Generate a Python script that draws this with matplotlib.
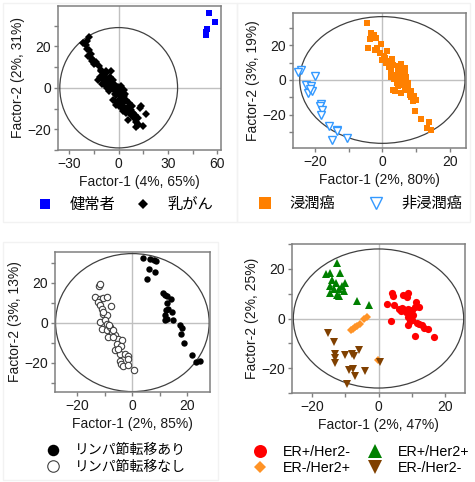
import numpy as np
import matplotlib
matplotlib.use('Agg')
import matplotlib.pyplot as plt
from matplotlib.patches import Ellipse, Rectangle

plt.rcParams['font.family'] = ['Liberation Sans', 'Noto Sans CJK JP']
plt.rcParams['font.size'] = 10

# ---- data ----
# panel A: healthy vs breast cancer
healthy_x = [54.8, 58.4, 53.5, 53.0, 52.8]
healthy_y = [36.2, 31.5, 28.3, 26.8, 25.4]
cancer_x = [-21.5, -18.0, -20.0, -19.5, -17.8, -18.8, -17.0, -15.8, -14.6, -13.6, -16.2, -15.0,
            -10.5, -7.5, -4.5, -12.5, -11.5, -9.5, -8.8, -7.5, -5.5, -6.5, -3.4, -10.0, -8.5,
            -6.5, -5.0, -2.4, -0.4, 1.6, -4.5, -3.0, -1.8, 0.6, 3.0, -1.4, 0.5, 1.6, -3.4, -0.4,
            1.0, 2.6, 4.7, 3.5, 5.7, 3.7, 7.7, 8.7, 5.7, 10.8, 12.8, 13.8, 16.8, 14.8, 10.8, 11.8,
            7.7, 1.6, -1.4, 6.5, 9.5, 4.5, 2.5, 0.0, -2.5, -6.0, -7.0, -9.0, -11.0, -8.0, -2.0,
            4.0, 6.0, 8.0, 10.0, 11.5, 12.0, -3.8, -12.0, -17.0, -19.5]
cancer_y = [21.5, 24.5, 20.5, 18.8, 18.0, 15.2, 14.5, 13.2, 12.0, 12.6, 12.8, 11.3,
            8.0, 6.9, 8.2, 3.8, 5.0, 3.7, 5.5, 4.5, 5.3, 3.0, 3.7, 2.0, 1.3,
            2.0, 0.5, 1.3, 0.5, 0.8, -0.3, -1.0, -1.1, -1.9, -1.1, -3.5, -3.0, -4.3, -5.9, -6.7,
            -5.5, -7.5, -5.9, -4.0, -9.1, -9.9, -10.7, -12.3, -15.5, -16.3, -9.9, -8.8, -12.8, -18.4, -18.7, -17.4,
            -13.1, -9.1, -8.3, -11.5, -14.5, -12.0, -11.0, -9.0, -6.5, -1.5, 0.0, 6.5, 8.5, 8.0, -3.0,
            -3.0, -7.5, -9.0, -13.0, -14.8, -18.0, 2.0, 10.5, 16.5, 22.5]

# panel B: invasive vs non-invasive
inv_x = [-4.7, -3.3, -3.8, -1.8, -2.6, -4.3, -2.3, -0.5, -0.8, 1.5, 0.7, -0.2, 1.7, 3.1, 4.6,
         5.6, 6.6, 2.7, 3.6, 5.1, 4.2, 3.1, 6.1, 7.6, 6.6, 5.6, 8.1, 10.1, 9.1, 9.6, 11.4, 13.7,
         13.1, 14.5, 3.6, 4.5, 2.0, 1.0, 3.0, 5.5, 7.0, 6.0, 4.5, 8.5, 7.5, 5.0, 2.5, 0.5, -1.5,
         3.5, 8.5, 9.5, 6.8]
inv_y = [33.0, 27.2, 23.6, 24.3, 25.8, 18.6, 17.6, 20.9, 15.6, 16.6, 12.7, 11.5, 10.8, 8.9, 7.9,
         6.0, 4.1, 5.0, 3.1, 1.2, -1.7, -5.6, -2.7, -1.7, -5.6, -7.5, -8.5, -11.4, -12.4, -18.2, -22.4, -24.4,
         -27.8, -28.8, -6.6, 5.5, 7.5, 10.0, 12.0, 9.0, 2.0, 0.0, -3.5, -10.0, -4.0, 3.5, 1.5, 14.0, 18.5,
         0.5, -6.5, -9.5, 7.0]
noninv_x = [-24.2, -25.0, -19.9, -22.6, -21.1, -22.1, -20.8, -21.5, -18.3, -18.6, -18.0, -18.3,
            -15.8, -13.4, -13.6, -14.8, -10.5]
noninv_y = [6.0, 4.4, 2.1, -2.7, -3.3, -7.5, -6.6, -5.0, -13.9, -14.8, -17.2, -20.1,
            -26.9, -28.8, -29.4, -34.6, -33.6]

# panel C: lymph node metastasis
lnm_x = [4.0, 6.4, 7.9, 8.6, 6.2, 8.4, 5.2, 11.0, 11.9, 12.7, 14.0, 12.4, 13.1, 12.1, 11.9,
         12.4, 14.5, 14.9, 17.3, 17.9, 17.6, 18.8, 21.6, 23.2, 24.6, 11.9]
lnm_y = [32.3, 31.7, 31.2, 30.7, 26.7, 25.3, 21.7, 15.0, 13.7, 13.3, 12.0, 10.0, 7.0, 6.2, 3.7,
         1.7, 5.3, 1.2, -1.3, -2.5, -5.5, -10.0, -16.0, -19.7, -19.2, 1.5]
nolnm_x = [-12.1, -11.8, -13.6, -11.8, -10.5, -9.1, -12.4, -11.8, -11.2, -7.9, -10.5, -9.3, -11.8,
           -9.9, -11.2, -9.3, -8.1, -7.5, -6.3, -6.9, -5.1, -3.9, -5.7, -4.2, -6.3, -4.5, -2.7,
           -1.5, -1.7, -4.5, -4.2, -3.3, -1.5, 0.7, -9.3, -8.4, -8.7, -5.1, -6.9, -10.8]
nolnm_y = [18.3, 19.2, 12.8, 12.0, 12.5, 12.8, 10.3, 8.7, 7.0, 8.3, 4.5, 3.7, 0.3,
           1.2, -3.0, -3.8, -2.2, -4.7, -6.3, -3.8, -8.0, -8.8, -10.5, -11.8, -13.8, -15.5, -15.8,
           -16.8, -18.0, -19.2, -20.5, -21.8, -21.3, -23.5, -0.5, -1.3, -7.2, -13.0, -7.2, 5.5]

# panel D: subtypes
erp_her2n_x = [4.0, 4.5, 7.5, 8.8, 8.5, 2.5, 4.8, 7.0, 6.8, 7.5, 8.2, 9.0, 11.3, 11.0, 12.3, 10.2,
               3.8, 9.0, 9.5, 9.0, 11.5, 13.0, 13.8, 15.0, 11.0, 16.7, 10.0, 9.5, 6.3, 10.5, 12.2]
erp_her2n_y = [10.1, 9.2, 9.5, 10.2, 8.5, 5.8, 5.5, 4.3, 3.1, 4.0, 2.7, 4.0, 6.8, 4.6, 4.6, 3.4,
               -1.2, 0.8, -1.2, -2.5, -1.8, -2.5, -3.7, -4.4, -7.0, -7.6, -0.5, 2.1, 3.9, 1.4, -2.2]
erp_her2p_x = [-12.5, -15.8, -14.5, -11.5, -14.0, -12.8, -10.0, -11.0, -14.5, -13.5, -12.0, -10.5,
               -14.5, -12.5, -11.8, -6.5, -3.0]
erp_her2p_y = [22.5, 17.8, 18.2, 18.2, 15.4, 14.3, 14.3, 13.0, 13.0, 11.7, 11.7, 11.1,
               10.2, 9.4, 8.9, 7.0, 5.5]
ern_her2p_x = [-3.5, -4.3, -5.7, -6.5, -7.0, -7.7, -8.2, -0.1]
ern_her2p_y = [0.8, -0.2, -2.4, -2.9, -3.5, -4.1, -4.7, -16.7]
ern_her2n_x = [-15.2, -13.4, -13.1, -13.0, -13.1, -10.0, -8.0, -7.5, -5.9, -9.0, -7.6, -7.0,
               -4.2, -9.6, 0.4]
ern_her2n_y = [-5.7, -9.5, -14.3, -15.8, -18.0, -14.7, -14.2, -15.3, -12.8, -20.6, -20.2, -23.3,
               -21.0, -26.5, -17.4]

W, H = 475, 482
fig = plt.figure(figsize=(W / 100, H / 100), dpi=100)

# faint panel frames
for (x0, y0, x1, y1) in [(3, 3, 237, 222), (237, 3, 470, 222), (3, 242, 218, 480)]:
    fig.patches.append(Rectangle((x0 / W, 1 - y1 / H), (x1 - x0) / W, (y1 - y0) / H,
                                 transform=fig.transFigure, fill=False,
                                 edgecolor='#f2f2f2', lw=1))


def px_axes(l, t, r, b):
    return fig.add_axes([l / W, 1 - b / H, (r - l) / W, (b - t) / H])


def style(ax, xlim, ylim, xmaj, xmin, ew, eh, xlabel, ylabel):
    ax.set_xlim(*xlim)
    ax.set_ylim(*ylim)
    ax.axhline(0, color='#c0c0c0', lw=1, zorder=0)
    ax.axvline(0, color='#c0c0c0', lw=1, zorder=0)
    ax.add_patch(Ellipse((0, 0), 2 * ew, 2 * eh, fill=False, edgecolor='#404040', lw=0.9, zorder=1))
    ax.set_xticks(xmaj)
    ax.set_xticks(xmin, minor=True)
    ax.set_yticks([-20, 0, 20])
    ax.set_yticks([-30, -10, 10, 30], minor=True)
    ax.tick_params(which='both', direction='out', length=3, width=1, color='#808080',
                   labelsize=10, labelcolor='#1a1a1a', pad=2)
    for s in ax.spines.values():
        s.set_color('#808080')
        s.set_linewidth(1.1)
    ax.set_xlabel(xlabel, fontsize=10, color='#1a1a1a', labelpad=3)
    ax.set_ylabel(ylabel, fontsize=10, color='#1a1a1a', labelpad=2)


# panel A
ax1 = px_axes(58, 6, 221, 150)
ax1.plot(healthy_x, healthy_y, 's', ms=5, color='#0000ff', mew=0, label='健常者', zorder=3)
ax1.plot(cancer_x, cancer_y, 'D', ms=3.6, color='black', mew=0, label='乳がん', zorder=3)
style(ax1, (-36.9, 62.2), (-29.9, 39.4), [-30, 0, 30, 60], [-15, 15, 45],
      35.8, 29, 'Factor-1 (4%, 65%)', 'Factor-2 (2%, 31%)')
fig.legend(*ax1.get_legend_handles_labels(), loc='center left', bbox_to_anchor=(37.4 / W, 1 - 205 / H),
           ncol=2, frameon=False, fontsize=11, handlelength=1.0, handletextpad=1.1,
           columnspacing=1.3, borderpad=0, borderaxespad=0, markerscale=1.5)

# panel B
ax2 = px_axes(293, 13, 466, 148)
ax2.plot(inv_x, inv_y, 's', ms=5, color='#ff8000', mew=0, label='浸潤癌', zorder=3)
ax2.plot(noninv_x, noninv_y, 'v', ms=5.5, mfc='white', mec='#3399ff', mew=1, label='非浸潤癌', zorder=3)
style(ax2, (-26.5, 24.8), (-39.4, 38.8), [-20, 0, 20], [-10, 10],
      24.5, 36.7, 'Factor-1 (2%, 80%)', 'Factor-2 (3%, 19%)')
fig.legend(*ax2.get_legend_handles_labels(), loc='center left', bbox_to_anchor=(257.4 / W, 1 - 204 / H),
           ncol=2, frameon=False, fontsize=11, handlelength=1.0, handletextpad=1.1,
           columnspacing=2.2, borderpad=0, borderaxespad=0, markerscale=1.6)

# panel C
ax3 = px_axes(55, 252, 210, 392)
ax3.plot(lnm_x, lnm_y, 'o', ms=4.6, color='black', mew=0, label='リンパ節転移あり', zorder=3)
ax3.plot(nolnm_x, nolnm_y, 'o', ms=4.6, mfc='white', mec='#404040', mew=0.8,
         label='リンパ節転移なし', zorder=3)
style(ax3, (-28.1, 28.2), (-34.7, 35.3), [-20, 0, 20], [-10, 10],
      27.9, 34.5, 'Factor-1 (2%, 85%)', 'Factor-2 (3%, 13%)')
fig.legend(*ax3.get_legend_handles_labels(), loc='center left', bbox_to_anchor=(46 / W, 1 - 458.5 / H),
           ncol=1, frameon=False, fontsize=10, handlelength=1.0, handletextpad=1.1,
           labelspacing=0.15, borderpad=0, borderaxespad=0, markerscale=1.8)

# panel D
ax4 = px_axes(292, 244, 465, 393)
ax4.plot(erp_her2n_x, erp_her2n_y, 'o', ms=5.2, color='#ff0000', mew=0, label='ER+/Her2-', zorder=3)
ax4.plot(erp_her2p_x, erp_her2p_y, '^', ms=5.5, color='#008000', mew=0, label='ER+/Her2+', zorder=3)
ax4.plot(ern_her2p_x, ern_her2p_y, 'D', ms=3.6, color='#ff9326', mew=0, label='ER-/Her2+', zorder=3)
ax4.plot(ern_her2n_x, ern_her2n_y, 'v', ms=5.5, color='#804000', mew=0, label='ER-/Her2-', zorder=3)
style(ax4, (-26, 26), (-29.3, 28.3), [-20, 0, 20], [-10, 10],
      25.6, 28, 'Factor-1 (2%, 47%)', 'Factor-2 (2%, 25%)')
h, l = ax4.get_legend_handles_labels()
order = [0, 2, 1, 3]
fig.legend([h[i] for i in order], [l[i] for i in order], loc='center left',
           bbox_to_anchor=(253 / W, 1 - 460 / H), ncol=2, frameon=False, fontsize=10.3,
           handlelength=1.0, handletextpad=1.1, columnspacing=1.2, labelspacing=0.15,
           borderpad=0, borderaxespad=0, markerscale=1.8)

fig.savefig('out.png', dpi=100)
